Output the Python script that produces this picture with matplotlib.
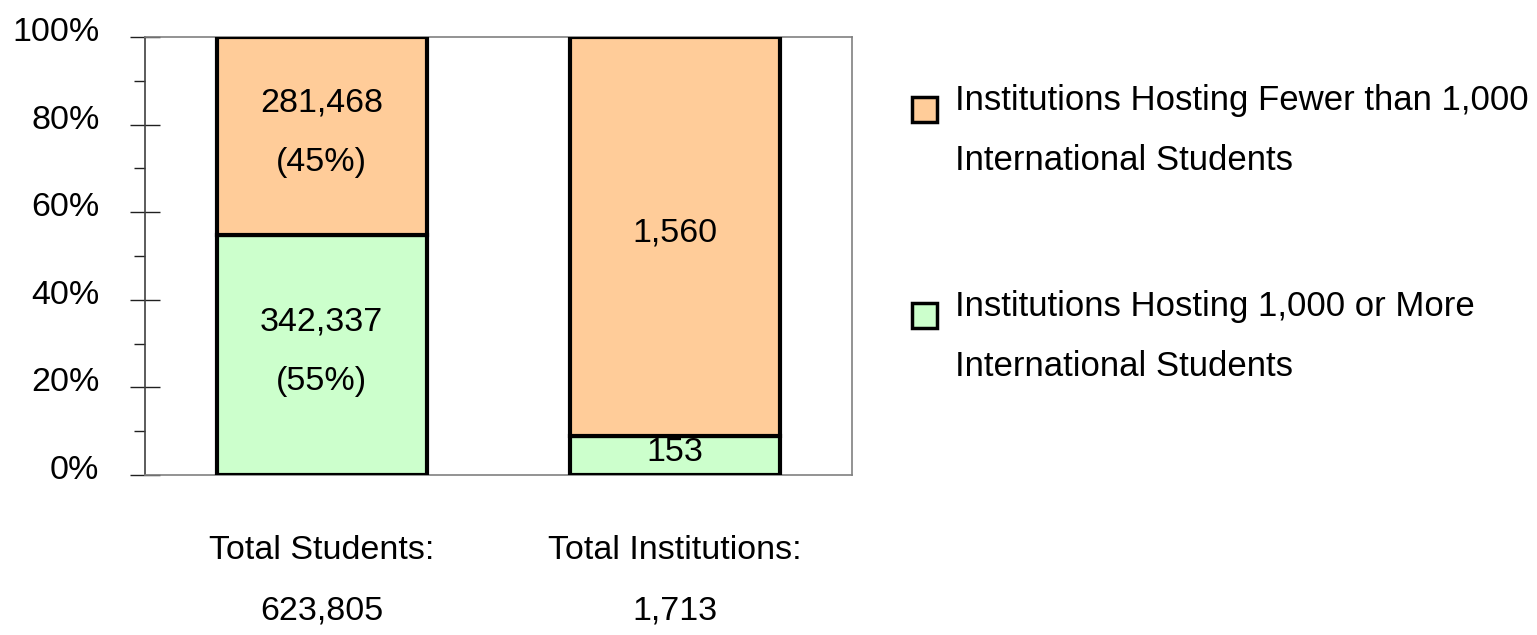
import matplotlib
matplotlib.use('Agg')
import matplotlib.pyplot as plt
import matplotlib.transforms as mtransforms
from matplotlib.patches import Rectangle
from matplotlib.ticker import MultipleLocator, PercentFormatter

plt.rcParams['font.family'] = ['Liberation Sans', 'DejaVu Sans']

# data
categories = ['Total Students:\n623,805', 'Total Institutions:\n1,713']
large_vals = [342337, 153]     # hosting 1,000 or more
small_vals = [281468, 1560]    # hosting fewer than 1,000
large_lbls = ['342,337\n(55%)', '153']
small_lbls = ['281,468\n(45%)', '1,560']
legend_lbls = ['Institutions Hosting Fewer than 1,000\nInternational Students',
               'Institutions Hosting 1,000 or More\nInternational Students']
green = '#CCFFCC'
orange = '#FFCC99'

totals = [a + b for a, b in zip(large_vals, small_vals)]
large_pct = [100 * a / t for a, t in zip(large_vals, totals)]
small_pct = [100 * b / t for b, t in zip(small_vals, totals)]

W, H = 1537, 635
fig = plt.figure(figsize=(W / 100, H / 100), dpi=100)
ax = fig.add_axes([145 / W, 1 - 475 / H, 707 / W, 438 / H])

x = range(len(categories))
b1 = ax.bar(x, large_pct, width=0.594, color=green, edgecolor='black', linewidth=3, zorder=3)
b2 = ax.bar(x, small_pct, bottom=large_pct, width=0.594, color=orange, edgecolor='black', linewidth=3, zorder=3)

for bars, lbls in [(b1, large_lbls), (b2, small_lbls)]:
    for rect, lbl in zip(bars, lbls):
        ax.annotate(lbl, (rect.get_x() + rect.get_width() / 2, rect.get_y() + rect.get_height() / 2),
                    xytext=(0, 3), textcoords='offset pixels',
                    ha='center', va='center', fontsize=24.5, linespacing=2.2, zorder=4)

ax.set_xlim(-0.5, 1.5)
ax.set_ylim(0, 100)
ax.yaxis.set_major_locator(MultipleLocator(20))
ax.yaxis.set_minor_locator(MultipleLocator(10))
ax.yaxis.set_major_formatter(PercentFormatter(decimals=0))
ax.tick_params(axis='y', which='major', direction='inout', length=21.6, width=1.0,
               color='#202020', labelsize=24.5, pad=22)
ax.tick_params(axis='y', which='minor', direction='out', length=8, width=1.0, color='#202020')
shift = mtransforms.ScaledTranslation(0, 8 / 100, fig.dpi_scale_trans)
for lab in ax.get_yticklabels():
    lab.set_transform(lab.get_transform() + shift)

ax.set_xticks(list(x))
ax.set_xticklabels(categories, fontsize=24.5, linespacing=2.25)
ax.tick_params(axis='x', length=0, pad=43)

for s in ax.spines.values():
    s.set_color('#808080')
    s.set_linewidth(1.2)
ax.spines['left'].set_color('#404040')

# legend drawn by hand so the box lines up with the first text line
for i, (lbl, col) in enumerate(zip(legend_lbls, [orange, green])):
    yc = 106 + i * 206
    fig.patches.append(Rectangle((912 / W, 1 - (yc + 16) / H), 25 / W, 25 / H,
                                 transform=fig.transFigure, facecolor=col,
                                 edgecolor='black', linewidth=2.5))
    fig.text(955 / W, 1 - (yc - 22) / H, lbl, ha='left', va='top', fontsize=25, linespacing=2.05)

fig.savefig('out.png', dpi=100)
